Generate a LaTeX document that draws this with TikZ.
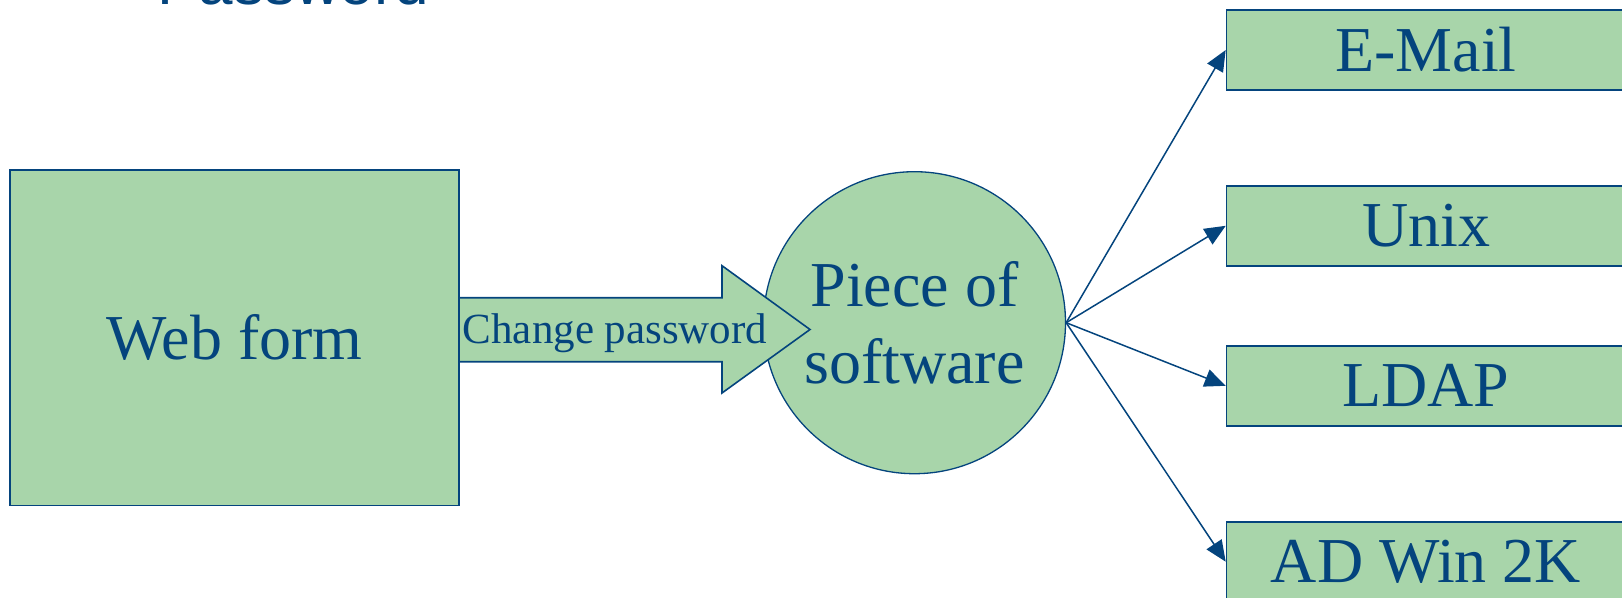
\documentclass[tikz,border=0pt]{standalone}
\usepackage{fontspec}
\setmainfont{Liberation Serif}
\newfontfamily\headfont{Liberation Sans}
\usetikzlibrary{arrows.meta}
\definecolor{navy}{RGB}{4,68,125}
\definecolor{leaf}{RGB}{168,213,170}
\begin{document}
\begin{tikzpicture}[x=1pt, y=-1pt,
    box/.style={draw=navy, fill=leaf, line width=1.6pt, inner sep=0pt, text=navy},
    target/.style={box, minimum width=500pt, minimum height=80pt, anchor=west},
    bigtext/.style={text=navy, font=\fontsize{64}{76.5}\selectfont},
    link/.style={draw=navy, line width=1.5pt, -{Triangle[length=21pt, width=18pt]}}]
    \useasboundingbox (0, 0) rectangle (1622, 597);
    \clip (0, 0) rectangle (1622, 597);

    \node[anchor=base west, inner sep=0pt, text=navy, font=\headfont\fontsize{62}{74}\selectfont] (title) at (157, 5) {Password};

    \node[box, minimum width=449pt, minimum height=335.7pt, font=\fontsize{64}{76}\selectfont] (web) at (234.5, 337.8) {Web form};
    \node[box, circle, line width=1.3pt, minimum size=302pt, align=center, font=\fontsize{64}{76.5}\selectfont] (soft) at (914.5, 322.7) {Piece of\\software};
    \draw[box] (459, 297.7) -- (722, 297.7) -- (722, 265.7) -- (810, 329.5)
        -- (722, 393) -- (722, 361.7) -- (459, 361.7) -- cycle;
    \node[anchor=base, text=navy, font=\fontsize{43}{50}\selectfont] (change) at (615, 343.3) {Change password};

    \node[target] (mail) at (1225.7, 50) {};
    \node[target] (unix) at (1225.7, 225.8) {};
    \node[target] (ldap) at (1225.7, 385.8) {};
    \node[target] (ad) at (1225.7, 561.7) {};
    \node[bigtext] (mailtext) at ([xshift=200.3pt] mail.west) {E-Mail};
    \node[bigtext] (unixtext) at ([xshift=200.3pt] unix.west) {Unix};
    \node[bigtext] (ldaptext) at ([xshift=200.3pt] ldap.west) {LDAP};
    \node[bigtext] (adtext) at ([xshift=200.3pt] ad.west) {AD Win 2K};

    \draw[link] (soft.east) -- (mail.west);
    \draw[link] (soft.east) -- (unix.west);
    \draw[link] (soft.east) -- (ldap.west);
    \draw[link] (soft.east) -- (ad.west);
  \end{tikzpicture}
\end{document}
